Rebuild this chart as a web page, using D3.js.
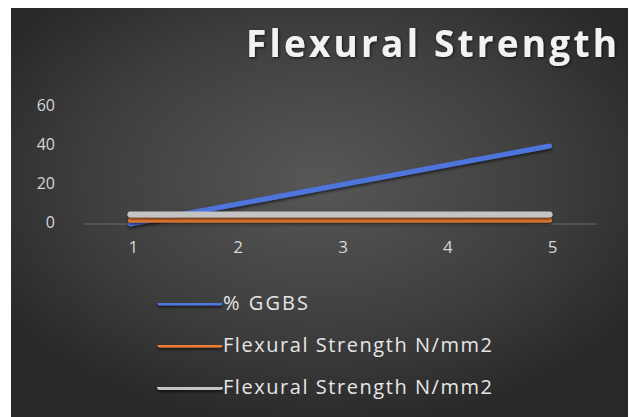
<!DOCTYPE html>
<html>
<head>
<meta charset="utf-8">
<script src="https://cdn.jsdelivr.net/npm/d3@7"></script>
<style>
  html, body { margin: 0; padding: 0; background: #ffffff; }
  svg { display: block; }
</style>
</head>
<body>
<svg id="chart" width="629" height="417"></svg>
<script>
// Categories on the x axis
const categories = ["1", "2", "3", "4", "5"];
// Series values
const ggbs = [0, 10, 20, 30, 40];
const flexuralA = [2, 2, 2, 2, 2];
const flexuralB = [4.9, 4.9, 4.9, 4.9, 4.9];
const seriesNames = ["% GGBS", "Flexural Strength N/mm2", "Flexural Strength N/mm2"];
const seriesColors = ["#4d74dc", "#ec7c30", "#c4c4c4"];
// Y axis tick values
const yTicks = [0, 20, 40, 60];

const series = [ggbs, flexuralA, flexuralB].map((values, i) => ({
  name: seriesNames[i],
  color: seriesColors[i],
  points: values.map((v, j) => ({ cat: categories[j], value: v }))
}));

const svg = d3.select("#chart");
const W = 629, H = 417;
const FONT = "'Open Sans', 'DejaVu Sans', sans-serif";

// Dark panel with a soft radial highlight
const defs = svg.append("defs");
const grad = defs.append("radialGradient")
  .attr("id", "panelGrad")
  .attr("cx", "50%").attr("cy", "42%").attr("r", "62%");
grad.append("stop").attr("offset", "0%").attr("stop-color", "#575757");
grad.append("stop").attr("offset", "60%").attr("stop-color", "#3e3e3e");
grad.append("stop").attr("offset", "100%").attr("stop-color", "#282828");

// Shadows use user-space regions so flat (zero-height) lines still render
const shadow = defs.append("filter").attr("id", "lineShadow")
  .attr("filterUnits", "userSpaceOnUse")
  .attr("x", 0).attr("y", 0).attr("width", W).attr("height", H);
shadow.append("feDropShadow").attr("dx", 0).attr("dy", 2).attr("stdDeviation", 1.5)
  .attr("flood-color", "#000").attr("flood-opacity", 0.6);

const glow = defs.append("filter").attr("id", "titleGlow")
  .attr("filterUnits", "userSpaceOnUse")
  .attr("x", 0).attr("y", 0).attr("width", W).attr("height", H);
glow.append("feDropShadow").attr("dx", 1).attr("dy", 1).attr("stdDeviation", 1.5)
  .attr("flood-color", "#000").attr("flood-opacity", 0.7);

svg.append("rect")
  .attr("x", 11).attr("y", 8).attr("width", W - 12).attr("height", H - 8)
  .attr("fill", "url(#panelGrad)");

// Title
svg.append("text")
  .attr("x", 246).attr("y", 57)
  .attr("font-family", FONT)
  .attr("font-weight", 700)
  .attr("font-size", 37)
  .attr("textLength", 371)
  .attr("lengthAdjust", "spacing")
  .attr("fill", "#f2f2f2")
  .attr("filter", "url(#titleGlow)")
  .text("Flexural Strength");

// Scales
const x = d3.scaleBand().domain(categories).range([78, 602]);
const y = d3.scaleLinear().domain([0, 60]).range([224, 107]);
const cx = d => x(d) + x.bandwidth() / 2;

// Zero baseline
svg.append("line")
  .attr("x1", 84).attr("x2", 597)
  .attr("y1", y(0)).attr("y2", y(0))
  .attr("stroke", "#6a6a6a").attr("stroke-width", 1.2);

// Y axis labels
const yAxis = d3.axisLeft(y).tickValues(yTicks).tickSize(0).tickPadding(0);
const gy = svg.append("g").attr("transform", "translate(55,-2)").call(yAxis);
gy.select(".domain").remove();
gy.selectAll("text")
  .attr("font-family", FONT)
  .attr("font-size", 16)
  .attr("fill", "#d6d6d6");

// X axis labels
const xAxis = d3.axisBottom(x).tickSize(0).tickPadding(0);
const gx = svg.append("g").attr("transform", "translate(3,241)").call(xAxis);
gx.select(".domain").remove();
gx.selectAll("text")
  .attr("font-family", FONT)
  .attr("font-size", 17)
  .attr("fill", "#d6d6d6");

// Series lines
const line = d3.line().x(d => cx(d.cat)).y(d => y(d.value));
svg.append("g").selectAll("path")
  .data(series)
  .join("path")
  .attr("d", d => line(d.points))
  .attr("fill", "none")
  .attr("stroke", d => d.color)
  .attr("stroke-width", (d, i) => i === 2 ? 6 : 5)
  .attr("stroke-linecap", "round")
  .attr("filter", "url(#lineShadow)");

// Legend
const legendY = d3.scalePoint().domain(d3.range(series.length)).range([303, 387]);
const legend = svg.append("g").selectAll("g")
  .data(series)
  .join("g")
  .attr("transform", (d, i) => `translate(0,${legendY(i)})`);
legend.append("line")
  .attr("x1", 160).attr("x2", 220).attr("y1", 0).attr("y2", 0)
  .attr("stroke", d => d.color)
  .attr("stroke-width", (d, i) => i === 2 ? 6 : 5)
  .attr("stroke-linecap", "round")
  .attr("filter", "url(#lineShadow)");
legend.append("text")
  .attr("x", 223).attr("y", 0).attr("dy", "0.35em")
  .attr("font-family", FONT)
  .attr("font-size", 20)
  .attr("textLength", (d, i) => i === 0 ? 85 : 269)
  .attr("lengthAdjust", "spacing")
  .attr("fill", "#e6e6e6")
  .text(d => d.name);
</script>
</body>
</html>
